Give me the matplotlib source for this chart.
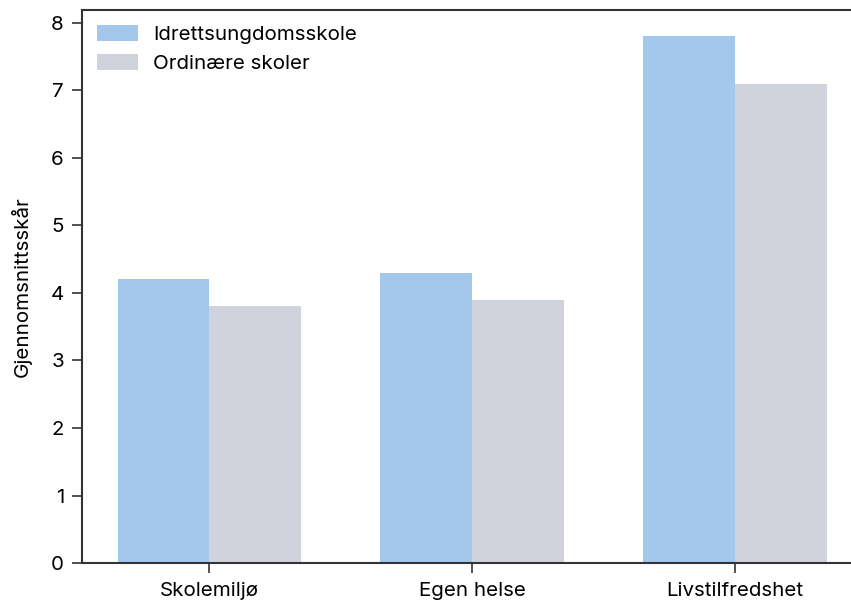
import numpy as np
import matplotlib.pyplot as plt

plt.rcParams['font.family'] = ['Inter', 'DejaVu Sans']

kategorier = ["Skolemiljø", "Egen helse", "Livstilfredshet"]
idrett = [4.2, 4.3, 7.8]
ordinaer = [3.8, 3.9, 7.1]

blaa = "#a3c8eb"
graa = "#d0d3db"
bredde = 0.35
fs = 14.8

fig = plt.figure(figsize=(8.51, 6.03), dpi=100)
ax = fig.add_axes([0.0964, 0.0663, 0.917, 0.917])

x = np.arange(len(kategorier))
ax.bar(x - bredde / 2, idrett, bredde, color=blaa, label="Idrettsungdomsskole")
ax.bar(x + bredde / 2, ordinaer, bredde, color=graa, label="Ordinære skoler")

ax.set_xticks(x)
ax.set_xticklabels(kategorier, fontsize=fs)
ax.set_yticks(range(0, 9))
ax.tick_params(axis="y", labelsize=fs, length=7, width=1.2, color="#333333", pad=6)
ax.tick_params(axis="x", length=7, width=1.2, color="#333333", pad=7)
ax.set_ylabel("Gjennomsnittsskår", fontsize=fs, labelpad=14)

for s in ax.spines.values():
    s.set_color("#333333")
    s.set_linewidth(1.5)

ax.legend(loc="upper left", frameon=False, fontsize=fs, handlelength=1.95,
          handleheight=0.75, handletextpad=0.75, borderaxespad=0.35, labelspacing=0.5)

fig.savefig("out.png", dpi=100)
